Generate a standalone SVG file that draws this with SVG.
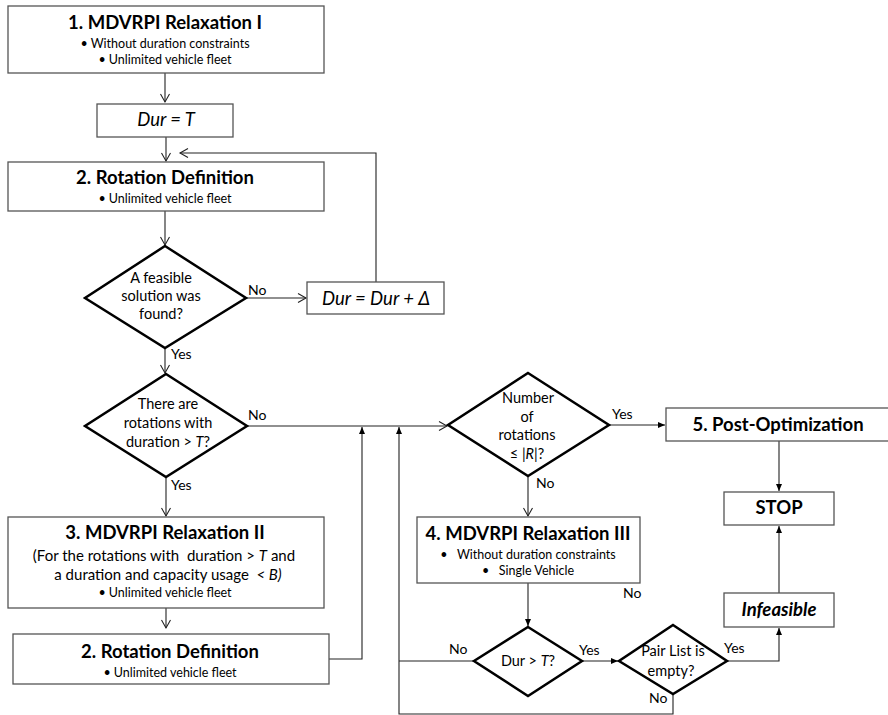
<svg xmlns="http://www.w3.org/2000/svg" width="888" height="715" viewBox="0 0 888 715">
<defs>
<style>
.box{fill:#fff;stroke:#555;stroke-width:1.3}
.dia{fill:#fff;stroke:#000;stroke-width:2.5;stroke-linejoin:miter}
.ln{fill:none;stroke:#222;stroke-width:1.1}
.t{font-family:Lato,"Open Sans","Liberation Sans",sans-serif;fill:#000;text-anchor:middle}
.ttl{font-size:18.5px;font-weight:bold}
.bl{font-size:12.5px}
.dt{font-size:14.5px}
.lb{font-family:Lato,"Open Sans","Liberation Sans",sans-serif;font-size:14px;fill:#000}
.it{font-style:italic}
</style>
<marker id="open" markerWidth="12" markerHeight="12" refX="9" refY="5" orient="auto" markerUnits="userSpaceOnUse">
<path d="M1,0.5 L9,5 L1,9.5" fill="none" stroke="#222" stroke-width="1.1"/>
</marker>
<marker id="fill" markerWidth="10" markerHeight="10" refX="7" refY="3.5" orient="auto" markerUnits="userSpaceOnUse">
<path d="M0,0.5 L7,3.5 L0,6.5 Z" fill="#000"/>
</marker>
</defs>
<rect width="888" height="715" fill="#fff"/>

<g id="connectors">
<path class="ln" d="M165,73 V102" marker-end="url(#open)"/>
<path class="ln" d="M166,137 V161" marker-end="url(#open)"/>
<path class="ln" d="M376,282 V153 H180" marker-end="url(#open)"/>
<path class="ln" d="M165,211 V245" marker-end="url(#open)"/>
<path class="ln" d="M246,298 H306" marker-end="url(#open)"/>
<path class="ln" d="M165,348 V373" marker-end="url(#open)"/>
<path class="ln" d="M247,426 H447" marker-end="url(#open)"/>
<path class="ln" d="M166,477 V516" marker-end="url(#open)"/>
<path class="ln" d="M166,608 V628" marker-end="url(#open)"/>
<path class="ln" d="M329,659 H362 V427" marker-end="url(#fill)"/>
<path class="ln" d="M673,694 V714 H399 V427" marker-end="url(#fill)"/>
<path class="ln" d="M474,661 H399"/>
<path class="ln" d="M528,476 V516" marker-end="url(#open)"/>
<path class="ln" d="M609,425 H665" marker-end="url(#fill)"/>
<path class="ln" d="M779,441 V491" marker-end="url(#fill)"/>
<path class="ln" d="M779,593 V526" marker-end="url(#fill)"/>
<path class="ln" d="M727,661 H779 V628" marker-end="url(#fill)"/>
<path class="ln" d="M528,583 V626" marker-end="url(#fill)"/>
<path class="ln" d="M582,661 H618" marker-end="url(#fill)"/>
</g>

<g id="n1">
<rect class="box" x="8" y="6" width="316" height="67"/>
<text class="t ttl" x="165" y="29">1. MDVRPI Relaxation I</text>
<text class="t bl" x="165" y="48">• Without duration constraints</text>
<text class="t bl" x="165" y="64">• Unlimited vehicle fleet</text>
</g>

<g id="n-dur">
<rect class="box" x="97" y="104" width="136" height="33"/>
<text class="t it" x="166" y="126" font-size="18.5">Dur = T</text>
</g>

<g id="n2">
<rect class="box" x="8" y="162" width="316" height="49"/>
<text class="t ttl" x="165" y="184">2. Rotation Definition</text>
<text class="t bl" x="165" y="203">• Unlimited vehicle fleet</text>
</g>

<g id="d1">
<polygon class="dia" points="165,246 246,298 165,348 85,298"/>
<text class="t dt" x="161" y="283">A feasible</text>
<text class="t dt" x="161" y="301">solution was</text>
<text class="t dt" x="161" y="319">found?</text>
</g>

<g id="n-durinc">
<rect class="box" x="307" y="282" width="137" height="32"/>
<text class="t it" x="376" y="305" font-size="18.5">Dur = Dur + Δ</text>
</g>

<g id="d2">
<polygon class="dia" points="166,374 247,426 166,477 85,426"/>
<text class="t dt" x="168" y="409">There are</text>
<text class="t dt" x="168" y="428">rotations with</text>
<text class="t dt" x="168" y="447">duration &gt; <tspan font-style="italic">T</tspan>?</text>
</g>

<g id="n3">
<rect class="box" x="8" y="517" width="316" height="91"/>
<text class="t ttl" x="165" y="539">3. MDVRPI Relaxation II</text>
<text class="t" x="164" y="561" font-size="15" xml:space="preserve">(For the rotations with  duration &gt; <tspan font-style="italic">T</tspan> and</text>
<text class="t" x="168" y="580" font-size="15" xml:space="preserve">a duration and capacity usage  <tspan font-style="italic">&lt; B)</tspan></text>
<text class="t bl" x="165" y="597">• Unlimited vehicle fleet</text>
</g>

<g id="n2b">
<rect class="box" x="13" y="634" width="316" height="50"/>
<text class="t ttl" x="170" y="658">2. Rotation Definition</text>
<text class="t bl" x="170" y="677">• Unlimited vehicle fleet</text>
</g>

<g id="d3">
<polygon class="dia" points="528,373 609,425 528,476 448,425"/>
<text class="t dt" x="528" y="403">Number</text>
<text class="t dt" x="527" y="422">of</text>
<text class="t dt" x="527" y="440">rotations</text>
<text class="t dt" x="527" y="459">≤ |<tspan font-style="italic">R</tspan>|?</text>
</g>

<g id="n5">
<rect class="box" x="666" y="408" width="230" height="33"/>
<text class="t ttl" x="778" y="431">5. Post-Optimization</text>
</g>

<g id="n-stop">
<rect class="box" x="724" y="492" width="110" height="33"/>
<text class="t ttl" x="779" y="514">STOP</text>
</g>

<g id="n4">
<rect class="box" x="417" y="517" width="223" height="66"/>
<text class="t ttl" x="528" y="540">4. MDVRPI Relaxation III</text>
<text class="t bl" x="528" y="559" xml:space="preserve">•   Without duration constraints</text>
<text class="t bl" x="528" y="575" xml:space="preserve">•   Single Vehicle</text>
</g>

<g id="n-inf">
<rect class="box" x="724" y="593" width="110" height="34"/>
<text class="t ttl it" x="779" y="616">Infeasible</text>
</g>

<g id="d4">
<polygon class="dia" points="528,627 582,661 528,696 474,661"/>
<text class="t dt" x="528" y="666">Dur &gt; <tspan font-style="italic">T</tspan>?</text>
</g>

<g id="d5">
<polygon class="dia" points="673,625 727,661 673,694 619,661"/>
<text class="t dt" x="673" y="656">Pair List is</text>
<text class="t dt" x="671" y="676">empty?</text>
</g>

<g id="labels">
<text class="lb" x="248" y="295">No</text>
<text class="lb" x="171" y="359">Yes</text>
<text class="lb" x="248" y="420">No</text>
<text class="lb" x="171" y="490">Yes</text>
<text class="lb" x="612" y="419">Yes</text>
<text class="lb" x="536" y="488">No</text>
<text class="lb" x="623" y="598">No</text>
<text class="lb" x="449" y="654">No</text>
<text class="lb" x="579" y="655">Yes</text>
<text class="lb" x="724" y="653">Yes</text>
<text class="lb" x="649" y="703">No</text>
</g>
</svg>
